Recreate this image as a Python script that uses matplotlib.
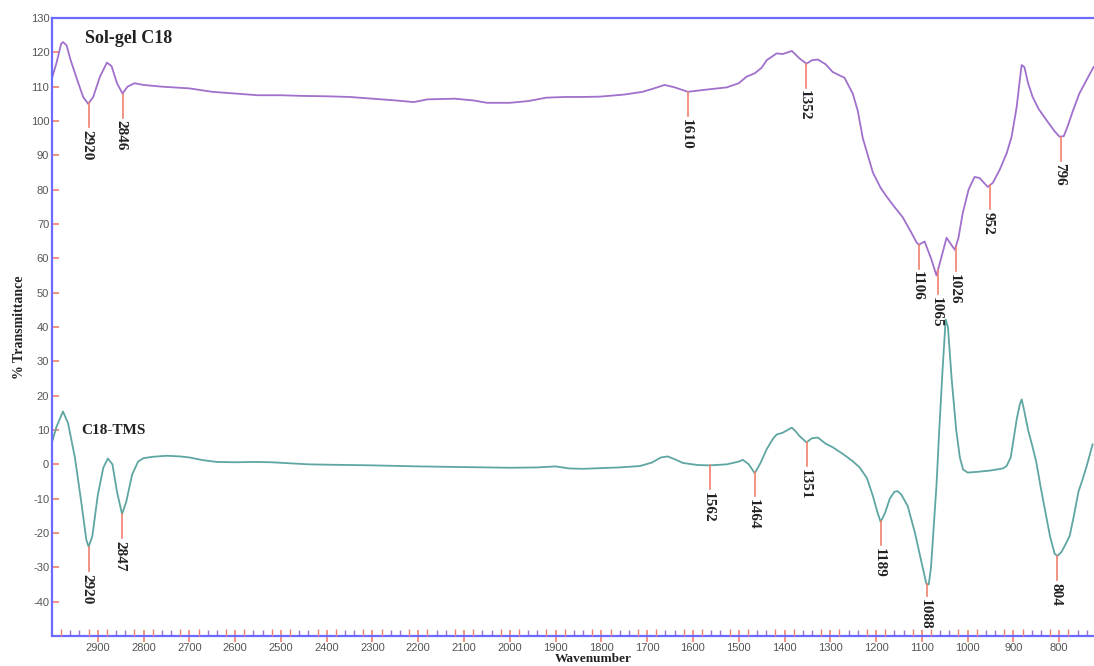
import numpy as np
import matplotlib
matplotlib.use("Agg")
import matplotlib.pyplot as plt
from matplotlib.ticker import FixedLocator, NullFormatter

plt.rcParams["axes.unicode_minus"] = False

# ---------------- data ----------------
solgel_wn = [3000, 2990, 2980, 2976, 2968, 2960, 2945, 2932, 2921, 2910, 2895, 2880, 2870, 2858, 2846,
             2835, 2820, 2800, 2760, 2700, 2650, 2600, 2550, 2500, 2450, 2400, 2350, 2300, 2250,
             2210, 2180, 2120, 2080, 2050, 2000, 1960, 1920, 1880, 1840, 1803, 1750, 1710, 1685,
             1662, 1640, 1611, 1580, 1526, 1500, 1483, 1465, 1450, 1439, 1417, 1404, 1384, 1367,
             1352, 1340, 1327, 1310, 1295, 1280, 1269, 1251, 1240, 1229, 1207, 1190, 1177, 1160,
             1142, 1125, 1111, 1106, 1094, 1080, 1068, 1058, 1046, 1036, 1028, 1020, 1011, 998,
             985, 974, 956, 945, 930, 915, 904, 893, 886, 882, 876, 868, 858, 845, 828, 810, 799,
             790, 782, 770, 756, 740, 725]
solgel_t = [112.5, 117, 122.5, 123, 122, 118, 112, 107, 105, 107, 113, 117, 116, 111, 108,
            110, 111, 110.5, 110, 109.5, 108.5, 108, 107.5, 107.5, 107.3, 107.2, 107, 106.5, 106,
            105.5, 106.3, 106.5, 106, 105.3, 105.3, 105.8, 106.8, 107, 107, 107.1, 107.7, 108.5, 109.5,
            110.5, 109.8, 108.5, 109, 109.8, 111, 112.9, 113.9, 115.5, 117.7, 119.7, 119.5, 120.4, 118.2,
            116.7, 117.7, 117.9, 116.5, 114.3, 113.3, 112.6, 108, 103, 95, 85, 80.5, 78, 75,
            72, 68, 64.5, 64, 64.9, 60, 55, 60, 66, 64, 62.5, 66, 73, 80,
            83.7, 83.4, 80.8, 82, 85.8, 90.5, 95.4, 104, 112, 116.3, 115.7, 111, 107, 103.5, 100.3, 97, 95.4,
            95.6, 98.3, 103, 108, 112, 115.7]

tms_wn = [3000, 2990, 2976, 2965, 2950, 2935, 2925, 2920, 2912, 2900, 2888, 2878, 2868, 2858, 2847,
          2838, 2825, 2812, 2800, 2780, 2750, 2720, 2700, 2670, 2640, 2600, 2560, 2520, 2480, 2440,
          2400, 2300, 2200, 2100, 2000, 1940, 1900, 1870, 1840, 1800, 1760, 1716, 1690, 1670, 1655,
          1640, 1622, 1590, 1563, 1526, 1500, 1491, 1478, 1465, 1452, 1439, 1425, 1417, 1404, 1384,
          1375, 1367, 1352, 1340, 1327, 1310, 1295, 1286, 1270, 1250, 1236, 1220, 1207, 1197, 1190,
          1180, 1170, 1160, 1153, 1145, 1131, 1115, 1100, 1090, 1085, 1080, 1075, 1068, 1062, 1055,
          1048, 1043, 1035, 1025, 1017, 1010, 1000, 980, 950, 923, 915, 906, 900, 893, 886, 882,
          877, 868, 858, 850, 840, 830, 820, 810, 804, 795, 785, 777, 768, 758, 749, 740, 727]
tms_t = [6.4, 11, 15.4, 12, 2, -12, -22, -24, -21, -9, -1, 1.7, 0, -8, -14.5,
         -11, -3, 0.8, 1.8, 2.2, 2.5, 2.3, 2, 1.2, 0.7, 0.6, 0.7, 0.6, 0.3, 0,
         -0.1, -0.3, -0.6, -0.8, -1, -0.9, -0.6, -1.2, -1.3, -1.1, -0.9, -0.5, 0.5, 2, 2.3,
         1.5, 0.4, -0.2, -0.3, 0, 0.8, 1.3, 0, -2.6, 0.5, 4.4, 7.5, 8.7, 9.2, 10.7,
         9.5, 8.2, 6.4, 7.6, 7.8, 6, 5, 4.2, 2.8, 0.8, -0.9, -4, -9.2, -14, -16.8,
         -14, -10, -8, -7.8, -8.8, -12.1, -20, -29, -34.9, -35, -30, -20, -6, 10, 27,
         42.2, 40, 25, 10, 2, -1.5, -2.4, -2.2, -1.8, -1.2, -0.5, 2, 7, 13, 17.5, 18.9,
         16, 10, 5, 0.6, -7, -14, -21, -26, -26.7, -25.5, -23, -20.8, -15, -8, -4.4, -0.5, 5.8]

solgel_peaks = [2920, 2846, 1610, 1352, 1106, 1065, 1026, 952, 796]
tms_peaks = [2920, 2847, 1562, 1464, 1351, 1189, 1088, 804]

solgel_name = "Sol-gel C18"
tms_name = "C18-TMS"

x_tick_values = list(range(800, 3000, 100))
y_tick_values = list(range(-40, 131, 10))

# ---------------- style ----------------
PURPLE = "#a070cc"
TEAL = "#5ea6a2"
RED = "#f08070"
AXBLUE = "#6b6bff"
GRAY = "#555555"
SERIF = ["Liberation Serif", "DejaVu Serif"]
SANS = ["Liberation Sans", "DejaVu Sans"]
LINE_LEN = 7.0
SHORT_LINES = {1088: 3.5}

fig = plt.figure(figsize=(10.94, 6.66), dpi=100)
ax = fig.add_axes([52 / 1094, 1 - 636 / 666, 1 - 52 / 1094, (636 - 18) / 666])

ax.plot(solgel_wn, solgel_t, color=PURPLE, lw=1.3)
ax.plot(tms_wn, tms_t, color=TEAL, lw=1.3)

def annotate(peaks, wn, t, short=None):
    short = short or {}
    wn_a = np.array(wn)[::-1]
    t_a = np.array(t)[::-1]
    for p in peaks:
        y = np.interp(p, wn_a, t_a)
        L = short.get(p, LINE_LEN)
        ax.plot([p, p], [y, y - L], color=RED, lw=1.2)
        ax.text(p + 4, y - L - 0.8, str(p), rotation=270, ha="center", va="top",
                fontsize=11, fontweight="bold", family=SERIF, color="#222222")

annotate(solgel_peaks, solgel_wn, solgel_t)
annotate(tms_peaks, tms_wn, tms_t, SHORT_LINES)

ax.text(2927, 124, solgel_name, fontsize=13, fontweight="bold", family=SERIF,
        color="#222222", va="center", ha="left")
ax.text(2937, 10, tms_name, fontsize=11, fontweight="bold", family=SERIF,
        color="#222222", va="center", ha="left")

ax.set_xlim(3000, 724)
ax.set_ylim(-50, 130)

ax.set_xticks(x_tick_values)
ax.set_yticks(y_tick_values)
purple_minor = [m for m in range(720, 3001, 20) if m % 100 in (40, 60)]
red_minor = [m for m in range(720, 3001, 20) if m % 100 in (20, 80)]
ax.xaxis.set_minor_locator(FixedLocator(purple_minor))

for s in ["left", "top", "bottom"]:
    ax.spines[s].set_color(AXBLUE)
    ax.spines[s].set_linewidth(1.6)
ax.spines["right"].set_visible(False)

ax.tick_params(axis="y", direction="in", length=5, width=1.2, color=RED,
               labelsize=8, labelcolor=GRAY, pad=2)
ax.tick_params(axis="x", which="major", direction="inout", length=8, width=1.2, color=RED,
               labelsize=8, labelcolor=GRAY, pad=1)
ax.tick_params(axis="x", which="minor", direction="in", length=4, width=1.0, color=PURPLE)
for lab in ax.get_xticklabels() + ax.get_yticklabels():
    lab.set_family(SANS)

# red minor ticks on a twin axis
ax2 = ax.twiny()
ax2.set_xlim(ax.get_xlim())
ax2.xaxis.set_ticks_position("bottom")
ax2.xaxis.set_major_locator(FixedLocator(red_minor))
ax2.xaxis.set_major_formatter(NullFormatter())
ax2.tick_params(axis="x", which="major", direction="in", length=5, width=1.0, color=RED)
for s in ax2.spines.values():
    s.set_visible(False)

ax.set_ylabel("% Transmittance", fontsize=10, fontweight="bold", family=SERIF,
              color="#222222", labelpad=3)
fig.text(593 / 1094, 0.5 / 666, "Wavenumber", fontsize=9.5, fontweight="bold", family=SERIF,
         color="#222222", ha="center", va="bottom")

fig.savefig("out.png", dpi=100)
